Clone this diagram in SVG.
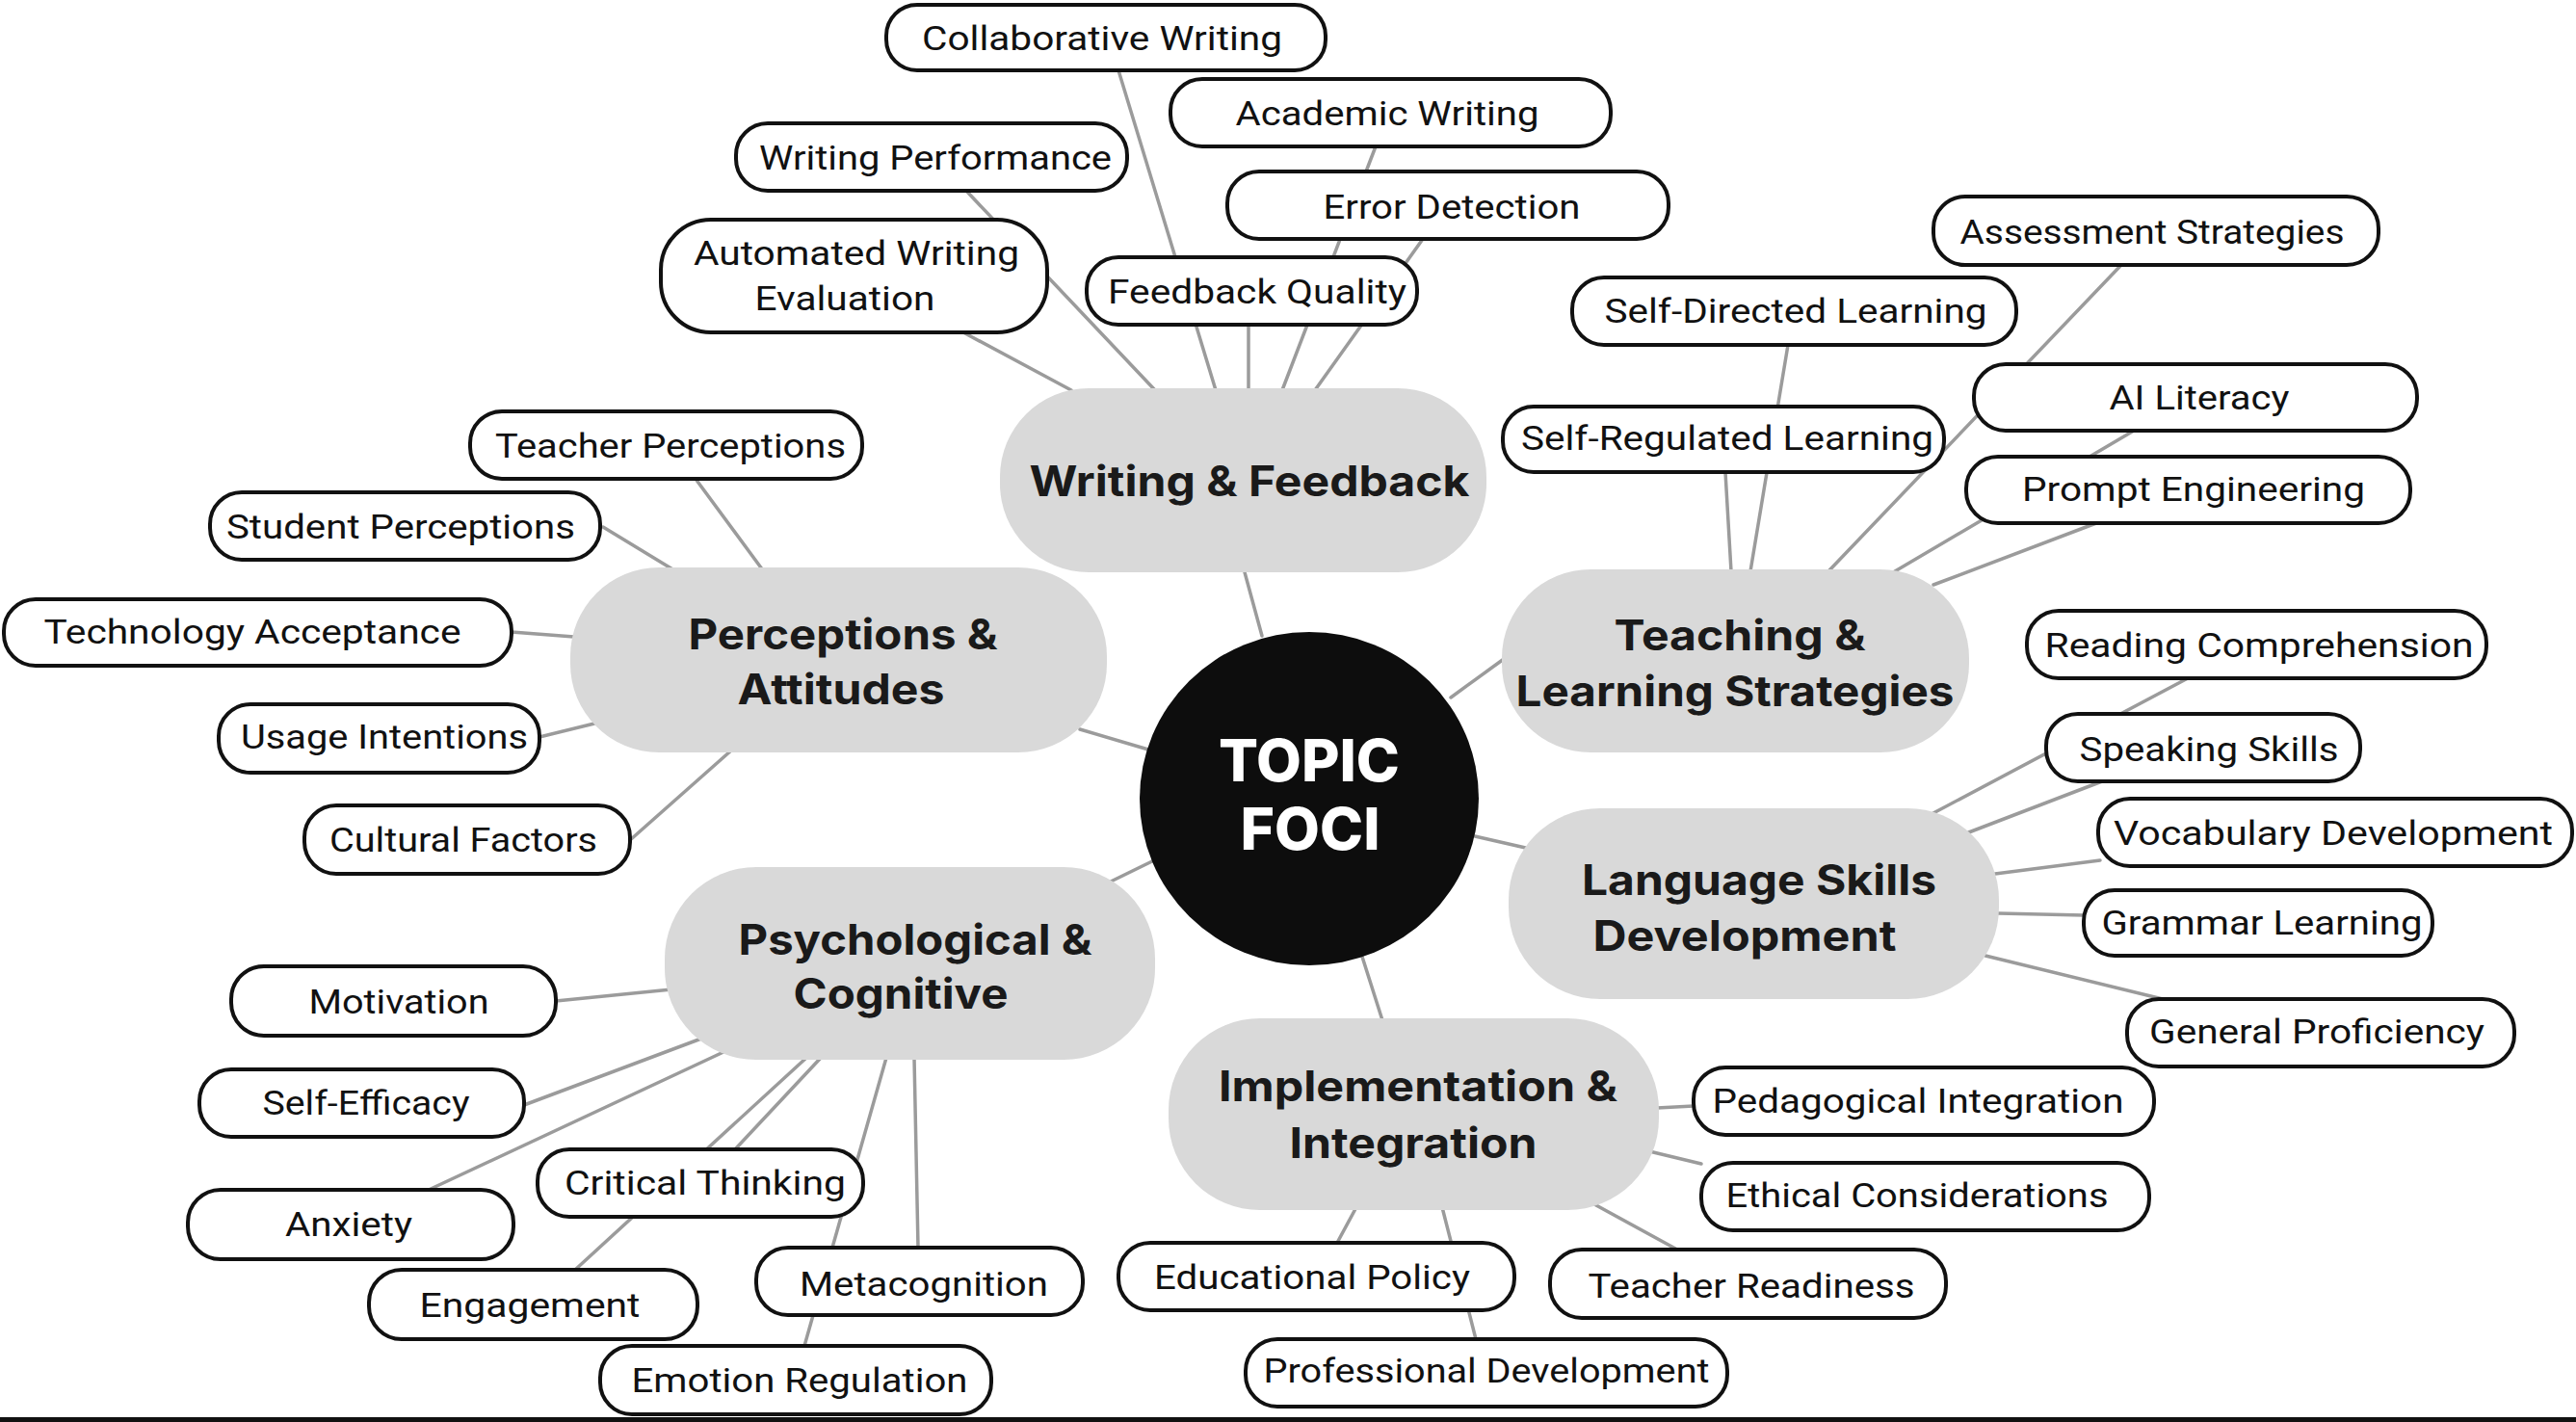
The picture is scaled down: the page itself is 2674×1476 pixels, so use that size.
<svg xmlns="http://www.w3.org/2000/svg" width="2674" height="1476" viewBox="0 0 2674 1476">
<style>
.leaf rect{fill:#fff;stroke:#111;stroke-width:4}
.leaf text{font-family:Roboto,"Liberation Sans",sans-serif;font-size:35px;fill:#111;text-anchor:middle}
.hub rect{fill:#d9d9d9}
.hub text{font-family:Inter,"Liberation Sans",sans-serif;font-weight:700;font-size:44px;fill:#1a1a1a;text-anchor:middle}
.center text{font-family:Inter,"Liberation Sans",sans-serif;font-weight:800;font-size:61px;fill:#fff;text-anchor:middle}
#connectors line{stroke:#9b9b9b;stroke-width:3.5;stroke-linecap:round}
</style>
<rect x="0" y="0" width="2674" height="1476" fill="#fff"/>
<g id="connectors">
<!-- Writing & Feedback -->
<line x1="1161" y1="73" x2="1262" y2="405"/>
<line x1="1428" y1="152" x2="1331" y2="405"/>
<line x1="1477" y1="248" x2="1365" y2="405"/>
<line x1="1296" y1="337" x2="1296" y2="405"/>
<line x1="1003" y1="198" x2="1199" y2="405"/>
<line x1="1000" y1="345" x2="1112" y2="405"/>
<line x1="1292" y1="594" x2="1310" y2="660"/>
<!-- Perceptions -->
<line x1="722" y1="497" x2="792" y2="592"/>
<line x1="626" y1="547" x2="700" y2="592"/>
<line x1="531" y1="656" x2="596" y2="661"/>
<line x1="560" y1="765" x2="617" y2="751"/>
<line x1="654" y1="872" x2="759" y2="779"/>
<line x1="1121" y1="757" x2="1192" y2="778"/>
<!-- Teaching -->
<line x1="1856" y1="358" x2="1817" y2="593"/>
<line x1="1791" y1="490" x2="1797" y2="593"/>
<line x1="2202" y1="275" x2="1898" y2="593"/>
<line x1="2215" y1="447" x2="1967" y2="593"/>
<line x1="2176" y1="543" x2="2007" y2="607"/>
<line x1="1561" y1="684" x2="1506" y2="724"/>
<!-- Language -->
<line x1="2271" y1="704" x2="2005" y2="845"/>
<line x1="2182" y1="811" x2="2041" y2="865"/>
<line x1="2180" y1="893" x2="2071" y2="907"/>
<line x1="2163" y1="950" x2="2074" y2="948"/>
<line x1="2061" y1="992" x2="2245" y2="1037"/>
<line x1="1531" y1="868" x2="1588" y2="881"/>
<!-- Psychological -->
<line x1="577" y1="1039" x2="697" y2="1027"/>
<line x1="544" y1="1147" x2="728" y2="1078"/>
<line x1="445" y1="1235" x2="751" y2="1092"/>
<line x1="597" y1="1318" x2="837" y2="1098"/>
<line x1="763" y1="1193" x2="852" y2="1098"/>
<line x1="835" y1="1397" x2="920" y2="1098"/>
<line x1="953" y1="1295" x2="949" y2="1098"/>
<line x1="1153" y1="915" x2="1198" y2="893"/>
<!-- Implementation -->
<line x1="1414" y1="993" x2="1435" y2="1059"/>
<line x1="1720" y1="1150" x2="1758" y2="1148"/>
<line x1="1712" y1="1195" x2="1766" y2="1208"/>
<line x1="1655" y1="1250" x2="1741" y2="1297"/>
<line x1="1408" y1="1253" x2="1388" y2="1290"/>
<line x1="1497" y1="1253" x2="1532" y2="1390"/>
</g>
<g id="topic-foci" class="center">
<ellipse cx="1359" cy="829" rx="176" ry="173" fill="#0d0d0d"/>
<text x="1359" y="811" textLength="188" lengthAdjust="spacingAndGlyphs">TOPIC</text>
<text x="1360" y="882" textLength="145" lengthAdjust="spacingAndGlyphs">FOCI</text>
</g>
<g id="writing-feedback" class="hub">
<rect x="1038" y="403" width="505" height="191" rx="92"/>
<text x="1297" y="515" textLength="457" lengthAdjust="spacingAndGlyphs">Writing &amp; Feedback</text>
</g>
<g id="perceptions-attitudes" class="hub">
<rect x="592" y="589" width="557" height="192" rx="92"/>
<text x="875" y="674" textLength="321" lengthAdjust="spacingAndGlyphs">Perceptions &amp;</text>
<text x="873" y="731" textLength="215" lengthAdjust="spacingAndGlyphs">Attitudes</text>
</g>
<g id="teaching-learning" class="hub">
<rect x="1559" y="591" width="485" height="190" rx="92"/>
<text x="1806" y="675" textLength="261" lengthAdjust="spacingAndGlyphs">Teaching &amp;</text>
<text x="1801" y="733" textLength="455" lengthAdjust="spacingAndGlyphs">Learning Strategies</text>
</g>
<g id="language-skills" class="hub">
<rect x="1566" y="839" width="509" height="198" rx="95"/>
<text x="1826" y="929" textLength="368" lengthAdjust="spacingAndGlyphs">Language Skills</text>
<text x="1811" y="987" textLength="315" lengthAdjust="spacingAndGlyphs">Development</text>
</g>
<g id="psychological-cognitive" class="hub">
<rect x="690" y="900" width="509" height="200" rx="95"/>
<text x="950" y="991" textLength="367" lengthAdjust="spacingAndGlyphs">Psychological &amp;</text>
<text x="935" y="1047" textLength="223" lengthAdjust="spacingAndGlyphs">Cognitive</text>
</g>
<g id="implementation-integration" class="hub">
<rect x="1213" y="1057" width="509" height="199" rx="95"/>
<text x="1472" y="1143" textLength="414" lengthAdjust="spacingAndGlyphs">Implementation &amp;</text>
<text x="1467" y="1202" textLength="257" lengthAdjust="spacingAndGlyphs">Integration</text>
</g>
<g id="collaborative-writing" class="leaf"><rect x="920" y="5" width="456" height="68" rx="32"/><text x="1144" y="52" textLength="374" lengthAdjust="spacingAndGlyphs">Collaborative Writing</text></g>
<g id="academic-writing" class="leaf"><rect x="1215" y="82" width="457" height="70" rx="33"/><text x="1440" y="130" textLength="315" lengthAdjust="spacingAndGlyphs">Academic Writing</text></g>
<g id="writing-performance" class="leaf"><rect x="764" y="128" width="406" height="70" rx="33"/><text x="971" y="176" textLength="366" lengthAdjust="spacingAndGlyphs">Writing Performance</text></g>
<g id="automated-writing-evaluation" class="leaf"><rect x="686" y="228" width="401" height="117" rx="52"/><text x="889" y="275" textLength="338" lengthAdjust="spacingAndGlyphs">Automated Writing</text><text x="877" y="322" textLength="187" lengthAdjust="spacingAndGlyphs">Evaluation</text></g>
<g id="error-detection" class="leaf"><rect x="1274" y="178" width="458" height="70" rx="33"/><text x="1507" y="227" textLength="267" lengthAdjust="spacingAndGlyphs">Error Detection</text></g>
<g id="feedback-quality" class="leaf"><rect x="1128" y="267" width="343" height="70" rx="33"/><text x="1305" y="315" textLength="310" lengthAdjust="spacingAndGlyphs">Feedback Quality</text></g>
<g id="teacher-perceptions" class="leaf"><rect x="488" y="427" width="407" height="70" rx="33"/><text x="696" y="475" textLength="364" lengthAdjust="spacingAndGlyphs">Teacher Perceptions</text></g>
<g id="student-perceptions" class="leaf"><rect x="218" y="511" width="405" height="70" rx="33"/><text x="416" y="559" textLength="362" lengthAdjust="spacingAndGlyphs">Student Perceptions</text></g>
<g id="technology-acceptance" class="leaf"><rect x="4" y="622" width="527" height="69" rx="33"/><text x="262" y="668" textLength="433" lengthAdjust="spacingAndGlyphs">Technology Acceptance</text></g>
<g id="usage-intentions" class="leaf"><rect x="227" y="731" width="333" height="71" rx="33"/><text x="399" y="777" textLength="298" lengthAdjust="spacingAndGlyphs">Usage Intentions</text></g>
<g id="cultural-factors" class="leaf"><rect x="316" y="836" width="338" height="71" rx="33"/><text x="481" y="884" textLength="278" lengthAdjust="spacingAndGlyphs">Cultural Factors</text></g>
<g id="self-directed-learning" class="leaf"><rect x="1632" y="288" width="461" height="70" rx="33"/><text x="1864" y="335" textLength="397" lengthAdjust="spacingAndGlyphs">Self-Directed Learning</text></g>
<g id="self-regulated-learning" class="leaf"><rect x="1560" y="422" width="458" height="68" rx="32"/><text x="1793" y="467" textLength="428" lengthAdjust="spacingAndGlyphs">Self-Regulated Learning</text></g>
<g id="assessment-strategies" class="leaf"><rect x="2007" y="204" width="462" height="71" rx="33"/><text x="2234" y="253" textLength="399" lengthAdjust="spacingAndGlyphs">Assessment Strategies</text></g>
<g id="ai-literacy" class="leaf"><rect x="2049" y="378" width="460" height="69" rx="33"/><text x="2283" y="425" textLength="187" lengthAdjust="spacingAndGlyphs">AI Literacy</text></g>
<g id="prompt-engineering" class="leaf"><rect x="2041" y="474" width="461" height="69" rx="33"/><text x="2277" y="520" textLength="356" lengthAdjust="spacingAndGlyphs">Prompt Engineering</text></g>
<g id="reading-comprehension" class="leaf"><rect x="2104" y="634" width="477" height="70" rx="33"/><text x="2345" y="682" textLength="445" lengthAdjust="spacingAndGlyphs">Reading Comprehension</text></g>
<g id="speaking-skills" class="leaf"><rect x="2124" y="741" width="326" height="70" rx="33"/><text x="2293" y="790" textLength="269" lengthAdjust="spacingAndGlyphs">Speaking Skills</text></g>
<g id="vocabulary-development" class="leaf"><rect x="2178" y="829" width="492" height="70" rx="33"/><text x="2422" y="877" textLength="456" lengthAdjust="spacingAndGlyphs">Vocabulary Development</text></g>
<g id="grammar-learning" class="leaf"><rect x="2163" y="924" width="362" height="68" rx="32"/><text x="2348" y="970" textLength="333" lengthAdjust="spacingAndGlyphs">Grammar Learning</text></g>
<g id="general-proficiency" class="leaf"><rect x="2208" y="1037" width="402" height="70" rx="33"/><text x="2405" y="1083" textLength="348" lengthAdjust="spacingAndGlyphs">General Proficiency</text></g>
<g id="pedagogical-integration" class="leaf"><rect x="1758" y="1108" width="478" height="70" rx="33"/><text x="1991" y="1155" textLength="427" lengthAdjust="spacingAndGlyphs">Pedagogical Integration</text></g>
<g id="ethical-considerations" class="leaf"><rect x="1766" y="1207" width="465" height="70" rx="33"/><text x="1990" y="1253" textLength="397" lengthAdjust="spacingAndGlyphs">Ethical Considerations</text></g>
<g id="teacher-readiness" class="leaf"><rect x="1609" y="1297" width="411" height="71" rx="33"/><text x="1818" y="1347" textLength="339" lengthAdjust="spacingAndGlyphs">Teacher Readiness</text></g>
<g id="educational-policy" class="leaf"><rect x="1161" y="1290" width="411" height="70" rx="33"/><text x="1362" y="1338" textLength="328" lengthAdjust="spacingAndGlyphs">Educational Policy</text></g>
<g id="professional-development" class="leaf"><rect x="1293" y="1390" width="500" height="70" rx="33"/><text x="1543" y="1435" textLength="463" lengthAdjust="spacingAndGlyphs">Professional Development</text></g>
<g id="motivation" class="leaf"><rect x="240" y="1003" width="337" height="72" rx="34"/><text x="414" y="1052" textLength="187" lengthAdjust="spacingAndGlyphs">Motivation</text></g>
<g id="self-efficacy" class="leaf"><rect x="207" y="1110" width="337" height="70" rx="33"/><text x="380" y="1157" textLength="215" lengthAdjust="spacingAndGlyphs">Self-Efficacy</text></g>
<g id="anxiety" class="leaf"><rect x="195" y="1235" width="338" height="72" rx="34"/><text x="362" y="1283" textLength="132" lengthAdjust="spacingAndGlyphs">Anxiety</text></g>
<g id="critical-thinking" class="leaf"><rect x="558" y="1193" width="338" height="70" rx="33"/><text x="732" y="1240" textLength="292" lengthAdjust="spacingAndGlyphs">Critical Thinking</text></g>
<g id="engagement" class="leaf"><rect x="383" y="1318" width="341" height="72" rx="34"/><text x="550" y="1367" textLength="229" lengthAdjust="spacingAndGlyphs">Engagement</text></g>
<g id="metacognition" class="leaf"><rect x="785" y="1295" width="339" height="70" rx="33"/><text x="959" y="1345" textLength="258" lengthAdjust="spacingAndGlyphs">Metacognition</text></g>
<g id="emotion-regulation" class="leaf"><rect x="623" y="1397" width="406" height="71" rx="33"/><text x="830" y="1445" textLength="349" lengthAdjust="spacingAndGlyphs">Emotion Regulation</text></g>
<rect x="0" y="1471" width="2674" height="5" fill="#111"/>
</svg>
